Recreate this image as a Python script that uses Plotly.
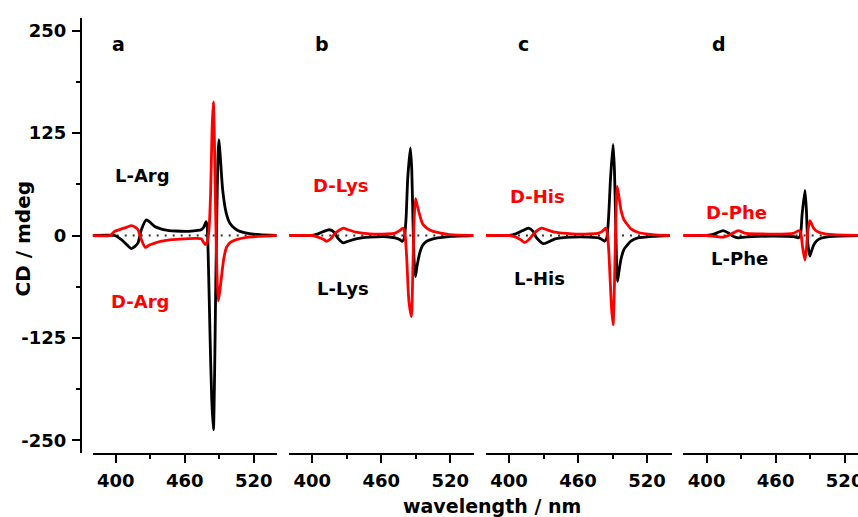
import plotly.graph_objects as go

# ---- CD spectra: wavelength (nm) and ellipticity (mdeg) per enantiomer ----
# a: arginine
arg_L_wl = [380, 399, 405, 409.5, 413.6, 417, 419.4, 422.3, 426.6, 430, 434, 442.6, 452, 463, 470, 474.4,
            476.5, 478.6, 479.6, 480.7, 482, 483.5, 485, 486, 487, 488, 489, 489.8, 491, 493, 496, 499.3,
            504, 508, 515, 525, 540]
arg_L_cd = [0, 0, -5, -11, -16, -13, -9, 7, 19, 16, 11, 7, 5.5, 5, 6, 7,
            10, 17, 10, -40, -120, -200, -237, -170, -60, 30, 100, 117, 95, 56, 28, 15,
            8, 5, 2.5, 1, 0]
arg_D_wl = [380, 395, 399, 405, 409.5, 413.6, 417, 419.4, 422.3, 425.8, 429, 433.9, 440, 448.3, 460, 470,
            474.4, 477.7, 479.5, 481, 482.5, 483.8, 484.9, 485.8, 487, 488, 489.2, 490.5, 492, 494,
            496.5, 500, 505, 515, 525, 540]
arg_D_cd = [0, 0, 5, 8, 10, 12, 10, 7, -5, -14.6, -12, -9.3, -7, -5, -4, -3.5,
            -4, -11, -8, 5, 50, 130, 163, 120, 20, -45, -80, -68, -50, -28,
            -14, -8, -5, -2, -1, 0]

# b: lysine
lys_L_wl = [380, 400, 405, 410, 414.7, 419, 422, 426.9, 431, 438, 450, 465, 472, 476, 478.4, 480,
            481.5, 483, 485.3, 486.5, 487.5, 488.5, 489.7, 491, 493.4, 496, 499.5, 505, 511.7, 520, 540]
lys_L_cd = [0, 0, 2, 5, 7, 4, -3, -9, -7, -4, -2, -1.5, -3, -5, -7, -3,
            20, 70, 107, 80, 20, -30, -50, -38, -21.5, -12, -7, -4, -2.5, -1, 0]
lys_D_wl = [380, 400, 405, 410, 412.5, 416, 420, 426.9, 431, 438, 450, 465, 472, 476, 478.9, 480.5,
            482, 484, 486.2, 487.3, 488.3, 489.7, 491, 493.4, 496, 499.5, 505, 511.7, 520, 540]
lys_D_cd = [0, 0, -2, -5, -7, -4, 3, 9, 7, 4, 2, 2, 3, 6, 9, 3,
            -25, -80, -99, -50, 10, 45, 38, 25, 14, 9, 5, 3, 1, 0]

# c: histidine
his_L_wl = [380, 400, 406, 412, 416.8, 421, 424, 429.7, 434, 440, 455, 470, 478, 481, 483.3, 485,
            486.5, 488.3, 490.5, 491.7, 492.7, 493.5, 494.3, 495.5, 497.5, 500, 502.1, 506, 512, 525, 540]
his_L_cd = [0, 0, 2, 6, 9, 5, -3, -10, -8, -4, -2, -2, -3, -5, -7, -3,
            20, 70, 111, 80, 20, -30, -56, -45, -28, -17, -13, -7, -3, -1, 0]
his_D_wl = [380, 400, 406, 410, 413.9, 418, 422, 428.4, 433, 440, 455, 470, 478, 481, 484.1, 485.5,
            487, 489, 490.5, 491.7, 492.7, 494, 495.3, 497.5, 500, 502.1, 506, 512, 525, 540]
his_D_cd = [0, 0, -2, -5, -8.5, -4, 3, 9, 7, 4, 2, 2, 3, 5, 9, 3,
            -25, -85, -109, -60, 5, 60, 50, 30, 19, 15, 8, 4, 1, 0]

# d: phenylalanine
phe_L_wl = [380, 400, 407, 414.4, 419, 423, 427.5, 433, 445, 470, 476, 479.7, 481.5, 483, 485.5, 486.8,
            488, 489.8, 491, 493, 496, 500, 510, 540]
phe_L_cd = [0, 0, 2, 6, 3, -1, -3, -2, -1, -1, -1.5, -3, 0, 25, 55, 30,
            -10, -25, -20, -12, -6, -3, -1, 0]
phe_D_wl = [380, 400, 407, 414.4, 419, 423, 427.5, 433, 445, 470, 476, 480.5, 482, 483.5, 485.5, 486.8,
            488, 489.8, 491, 493, 496, 500, 510, 540]
phe_D_cd = [0, 0, -1, -2, 0, 3, 6, 3, 2, 2, 3, 6, 2, -15, -30, -15,
            5, 18, 15, 9, 5, 3, 1, 0]

panel_letters = ["a", "b", "c", "d"]
L_labels = ["L-Arg", "L-Lys", "L-His", "L-Phe"]
D_labels = ["D-Arg", "D-Lys", "D-His", "D-Phe"]
x_ticks = [400, 460, 520]
y_ticks = [-250, -125, 0, 125, 250]

panels = [
    (arg_L_wl, arg_L_cd, arg_D_wl, arg_D_cd),
    (lys_L_wl, lys_L_cd, lys_D_wl, lys_D_cd),
    (his_L_wl, his_L_cd, his_D_wl, his_D_cd),
    (phe_L_wl, phe_L_cd, phe_D_wl, phe_D_cd),
]

# ---- layout geometry (pixels in an 858 x 517 canvas) ----
W, H = 858, 517
PX_PER_NM = 1.15
FONT = "DejaVu Sans, Liberation Sans, Arial"


def fx(x):
    return x / W


def fy(y):
    return (H - y) / H


panel_px = [(92.7, 276.7, 380.0), (289.3, 474.3, 380.0), (486.0, 671.5, 380.0), (682.7, 858.0, 379.2)]
y_top_px, y_bot_px = 18.3, 452.7

fig = go.Figure()
layout = dict(
    width=W, height=H,
    margin=dict(l=0, r=0, t=0, b=0, autoexpand=False),
    paper_bgcolor="white", plot_bgcolor="white",
    showlegend=False,
    font=dict(family=FONT, color="black"),
    yaxis=dict(
        domain=[fy(y_bot_px), fy(y_top_px)],
        range=[-265, 265],
        anchor="free", position=fx(81),
        tickvals=y_ticks, ticktext=[str(v) for v in y_ticks],
        ticks="outside", ticklen=8, tickwidth=2, tickcolor="black",
        minor=dict(ticks="outside", ticklen=4, tickwidth=2, tickcolor="black", dtick=62.5, tick0=0),
        showline=True, linewidth=2, linecolor="black",
        showgrid=False, zeroline=False, automargin=False,
        tickfont=dict(family=FONT, size=18, color="black", weight="bold"),
        ticklabelstandoff=2,
    ),
)

shapes = []
annotations = []
for i, ((lw, lc, dw, dc), (p0, p1, r0)) in enumerate(zip(panels, panel_px)):
    n = "" if i == 0 else str(i + 1)
    xa = "x" + n
    r1 = r0 + (p1 - p0) / PX_PER_NM
    layout["xaxis" + n] = dict(
        domain=[fx(p0), min(fx(p1), 1.0)],
        range=[r0, r1],
        anchor="y",
        tickvals=x_ticks, ticktext=[str(v) for v in x_ticks],
        ticks="outside", ticklen=8, tickwidth=2, tickcolor="black",
        minor=dict(ticks="outside", ticklen=4, tickwidth=2, tickcolor="black", dtick=30, tick0=400),
        showline=True, linewidth=2, linecolor="black",
        showgrid=False, zeroline=False, automargin=False,
        tickfont=dict(family=FONT, size=18, color="black", weight="bold"),
        ticklabelstandoff=3,
        ticklabeloverflow="allow",
    )
    # dotted zero reference
    shapes.append(dict(type="line", xref=xa, yref="y", x0=380, x1=540, y0=0, y1=0,
                       line=dict(color="#333333", width=2, dash="2px,6px"), layer="below"))
    fig.add_trace(go.Scatter(x=lw, y=lc, xaxis=xa, yaxis="y", mode="lines",
                             line=dict(color="black", width=2.8, shape="spline", smoothing=0.6)))
    fig.add_trace(go.Scatter(x=dw, y=dc, xaxis=xa, yaxis="y", mode="lines",
                             line=dict(color="#ff0000", width=2.8, shape="spline", smoothing=0.6)))

letter_pos = [(118, 44), (322, 44), (523.5, 44), (719, 44)]
L_pos = [(142.5, 175.5), (343.3, 288.8), (539.7, 278.8), (739.5, 258.8)]
D_pos = [(139.7, 302), (340.8, 185.5), (537.5, 196), (736.8, 212.8)]

for txt, (x, y) in zip(panel_letters, letter_pos):
    annotations.append(dict(text=txt, x=fx(x), y=fy(y), xref="paper", yref="paper", showarrow=False,
                            xanchor="center", yanchor="middle",
                            font=dict(family=FONT, size=19, color="black", weight="bold")))
for txt, (x, y) in zip(L_labels, L_pos):
    annotations.append(dict(text=txt, x=fx(x), y=fy(y), xref="paper", yref="paper", showarrow=False,
                            xanchor="center", yanchor="middle",
                            font=dict(family=FONT, size=18, color="black", weight="bold")))
for txt, (x, y) in zip(D_labels, D_pos):
    annotations.append(dict(text=txt, x=fx(x), y=fy(y), xref="paper", yref="paper", showarrow=False,
                            xanchor="center", yanchor="middle",
                            font=dict(family=FONT, size=18, color="#ff0000", weight="bold")))

# axis titles
annotations.append(dict(text="CD / mdeg", x=fx(22.5), y=fy(239), xref="paper", yref="paper",
                        showarrow=False, textangle=-90, xanchor="center", yanchor="middle",
                        font=dict(family=FONT, size=20, color="black", weight="bold")))
annotations.append(dict(text="wavelength / nm", x=fx(491.7), y=fy(506.4), xref="paper", yref="paper",
                        showarrow=False, xanchor="center", yanchor="middle",
                        font=dict(family=FONT, size=19, color="black", weight="bold")))

layout["shapes"] = shapes
layout["annotations"] = annotations
fig.update_layout(**layout)
fig.write_html("out.html")
